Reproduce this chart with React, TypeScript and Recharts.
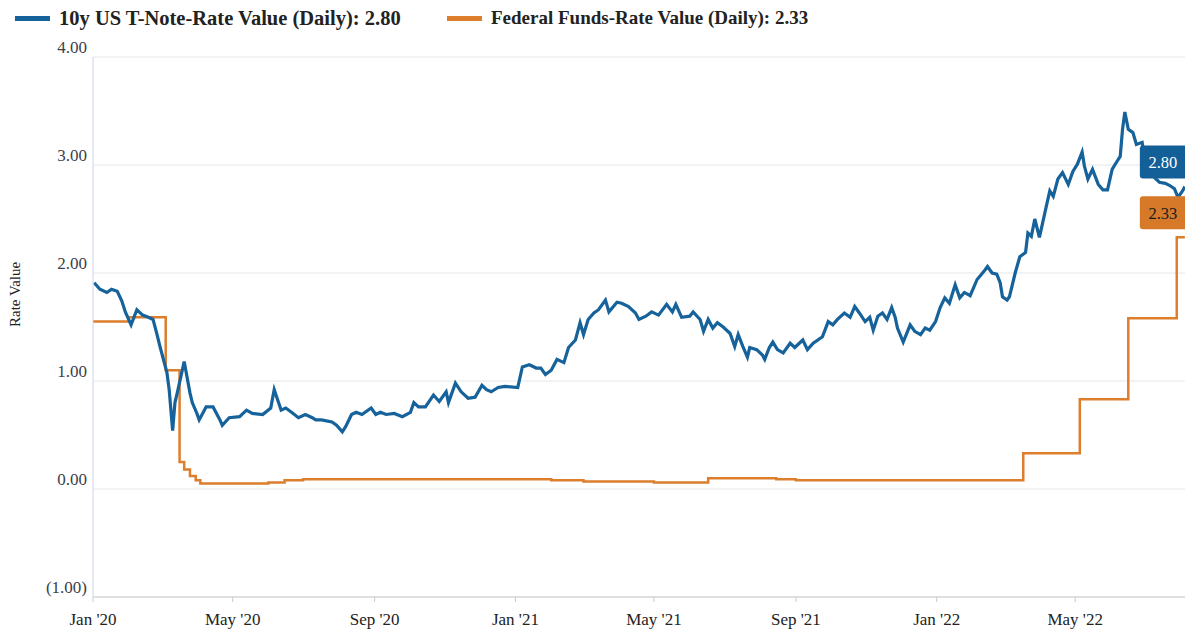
import { LineChart, Line, XAxis, YAxis, CartesianGrid, ReferenceDot } from "recharts";

// 10y US T-Note rate (roughly twice a week)
const tnote2020: [string, number][] = [
  ["2020-01-02", 1.91], ["2020-01-07", 1.85], ["2020-01-13", 1.82], ["2020-01-17", 1.85],
  ["2020-01-22", 1.83], ["2020-01-26", 1.74], ["2020-01-29", 1.64], ["2020-02-03", 1.52],
  ["2020-02-08", 1.66], ["2020-02-13", 1.61], ["2020-02-18", 1.59], ["2020-02-22", 1.57],
  ["2020-02-25", 1.45], ["2020-02-28", 1.32], ["2020-03-02", 1.2], ["2020-03-05", 1.08],
  ["2020-03-07", 0.92], ["2020-03-10", 0.54], ["2020-03-12", 0.8], ["2020-03-14", 0.89],
  ["2020-03-20", 1.18], ["2020-03-25", 0.89], ["2020-03-27", 0.8], ["2020-03-31", 0.7],
  ["2020-04-02", 0.64], ["2020-04-08", 0.76], ["2020-04-14", 0.76], ["2020-04-20", 0.64],
  ["2020-04-22", 0.59], ["2020-04-28", 0.66], ["2020-05-07", 0.67], ["2020-05-13", 0.73],
  ["2020-05-18", 0.7], ["2020-05-27", 0.69], ["2020-06-03", 0.75], ["2020-06-06", 0.92],
  ["2020-06-12", 0.73], ["2020-06-16", 0.75], ["2020-06-21", 0.71], ["2020-06-27", 0.66],
  ["2020-07-03", 0.69], ["2020-07-09", 0.66], ["2020-07-12", 0.64], ["2020-07-17", 0.64],
  ["2020-07-26", 0.62], ["2020-07-30", 0.59], ["2020-08-04", 0.53], ["2020-08-07", 0.58],
  ["2020-08-12", 0.69], ["2020-08-16", 0.71], ["2020-08-21", 0.69], ["2020-08-29", 0.75],
  ["2020-09-02", 0.69], ["2020-09-06", 0.71], ["2020-09-11", 0.69], ["2020-09-18", 0.7],
  ["2020-09-25", 0.67], ["2020-10-02", 0.71], ["2020-10-05", 0.8], ["2020-10-09", 0.76],
  ["2020-10-15", 0.76], ["2020-10-22", 0.87], ["2020-10-27", 0.81], ["2020-11-02", 0.9],
  ["2020-11-04", 0.8], ["2020-11-10", 0.98], ["2020-11-15", 0.9], ["2020-11-21", 0.84],
  ["2020-11-27", 0.85], ["2020-12-03", 0.96], ["2020-12-07", 0.92], ["2020-12-11", 0.9],
  ["2020-12-17", 0.94], ["2020-12-23", 0.95],
];

const tnote2021: [string, number][] = [
  ["2021-01-03", 0.94], ["2021-01-07", 1.13], ["2021-01-13", 1.15], ["2021-01-19", 1.12],
  ["2021-01-23", 1.12], ["2021-01-27", 1.06], ["2021-02-01", 1.1], ["2021-02-06", 1.2],
  ["2021-02-12", 1.17], ["2021-02-16", 1.31], ["2021-02-22", 1.38], ["2021-02-26", 1.54],
  ["2021-03-01", 1.43], ["2021-03-05", 1.57], ["2021-03-10", 1.63], ["2021-03-14", 1.66],
  ["2021-03-20", 1.75], ["2021-03-23", 1.64], ["2021-03-30", 1.73], ["2021-04-03", 1.72],
  ["2021-04-09", 1.69], ["2021-04-15", 1.63], ["2021-04-18", 1.57], ["2021-04-24", 1.6],
  ["2021-04-29", 1.64], ["2021-05-05", 1.61], ["2021-05-12", 1.71], ["2021-05-17", 1.64],
  ["2021-05-20", 1.71], ["2021-05-25", 1.59], ["2021-06-01", 1.6], ["2021-06-04", 1.64],
  ["2021-06-10", 1.57], ["2021-06-13", 1.46], ["2021-06-17", 1.57], ["2021-06-21", 1.49],
  ["2021-06-25", 1.54], ["2021-06-30", 1.5], ["2021-07-06", 1.44], ["2021-07-10", 1.32],
  ["2021-07-13", 1.43], ["2021-07-17", 1.32], ["2021-07-21", 1.22], ["2021-07-23", 1.31],
  ["2021-07-29", 1.29], ["2021-08-03", 1.24], ["2021-08-05", 1.2], ["2021-08-09", 1.31],
  ["2021-08-12", 1.36], ["2021-08-16", 1.29], ["2021-08-21", 1.26], ["2021-08-27", 1.35],
  ["2021-08-31", 1.31], ["2021-09-07", 1.38], ["2021-09-11", 1.29], ["2021-09-16", 1.35],
  ["2021-09-20", 1.38], ["2021-09-24", 1.41], ["2021-09-29", 1.55], ["2021-10-03", 1.52],
  ["2021-10-07", 1.57], ["2021-10-13", 1.63], ["2021-10-18", 1.59], ["2021-10-22", 1.69],
  ["2021-10-26", 1.63], ["2021-10-31", 1.55], ["2021-11-04", 1.59], ["2021-11-07", 1.47],
  ["2021-11-11", 1.6], ["2021-11-15", 1.63], ["2021-11-19", 1.57], ["2021-11-23", 1.68],
  ["2021-11-26", 1.59], ["2021-11-28", 1.49], ["2021-12-03", 1.36], ["2021-12-09", 1.52],
  ["2021-12-13", 1.46], ["2021-12-18", 1.43], ["2021-12-22", 1.49], ["2021-12-26", 1.47],
  ["2021-12-31", 1.55],
];

const tnote2022: [string, number][] = [
  ["2022-01-04", 1.68], ["2022-01-08", 1.77], ["2022-01-12", 1.72], ["2022-01-17", 1.89],
  ["2022-01-21", 1.77], ["2022-01-25", 1.82], ["2022-01-30", 1.79], ["2022-02-05", 1.94],
  ["2022-02-09", 1.99], ["2022-02-12", 2.03], ["2022-02-14", 2.06], ["2022-02-18", 2.0],
  ["2022-02-22", 1.99], ["2022-02-25", 1.91], ["2022-02-27", 1.78], ["2022-03-03", 1.75],
  ["2022-03-05", 1.78], ["2022-03-10", 2.0], ["2022-03-14", 2.15], ["2022-03-19", 2.19],
  ["2022-03-21", 2.37], ["2022-03-24", 2.34], ["2022-03-27", 2.5], ["2022-03-31", 2.33],
  ["2022-04-06", 2.62], ["2022-04-09", 2.76], ["2022-04-12", 2.71], ["2022-04-16", 2.87],
  ["2022-04-20", 2.93], ["2022-04-25", 2.82], ["2022-04-29", 2.94], ["2022-05-03", 3.01],
  ["2022-05-07", 3.12], ["2022-05-09", 2.99], ["2022-05-12", 2.87], ["2022-05-16", 2.96],
  ["2022-05-21", 2.82], ["2022-05-25", 2.77], ["2022-05-29", 2.77], ["2022-06-02", 2.96],
  ["2022-06-06", 3.03], ["2022-06-09", 3.08], ["2022-06-11", 3.33], ["2022-06-13", 3.49],
  ["2022-06-16", 3.33], ["2022-06-20", 3.3], ["2022-06-23", 3.19], ["2022-06-28", 3.21],
  ["2022-06-30", 3.08], ["2022-07-05", 2.95], ["2022-07-09", 2.88], ["2022-07-13", 2.84],
  ["2022-07-18", 2.83], ["2022-07-22", 2.81], ["2022-07-26", 2.78], ["2022-07-29", 2.7],
  ["2022-08-02", 2.76], ["2022-08-04", 2.8],
];

// Effective fed funds rate, change points (drawn as steps)
const fedFunds: [string, number][] = [
  ["2020-01-01", 1.55], ["2020-02-01", 1.59], ["2020-03-04", 1.1], ["2020-03-16", 0.25],
  ["2020-03-20", 0.18], ["2020-03-25", 0.12], ["2020-03-30", 0.08], ["2020-04-03", 0.05],
  ["2020-06-01", 0.06], ["2020-06-15", 0.08], ["2020-07-01", 0.09], ["2021-02-01", 0.08],
  ["2021-03-01", 0.07], ["2021-05-01", 0.06], ["2021-06-17", 0.1], ["2021-08-15", 0.09],
  ["2021-09-01", 0.08], ["2022-03-17", 0.33], ["2022-05-05", 0.83], ["2022-06-16", 1.58],
  ["2022-07-28", 2.33], ["2022-08-04", 2.33],
];

const xTickDates = [
  "2020-01-01", "2020-05-01", "2020-09-01", "2021-01-01",
  "2021-05-01", "2021-09-01", "2022-01-01", "2022-05-01",
];
const xTickLabels = ["Jan '20", "May '20", "Sep '20", "Jan '21", "May '21", "Sep '21", "Jan '22", "May '22"];
const yTicks = [-1, 0, 1, 2, 3, 4];
const yTickLabels = ["(1.00)", "0.00", "1.00", "2.00", "3.00", "4.00"];

const BLUE = "#16629b";
const ORANGE = "#dc7e2c";
const FONT = '"Liberation Serif", "Times New Roman", serif';

const ts = (d: string) => Date.parse(d + "T00:00:00Z");

const tnoteData = [...tnote2020, ...tnote2021, ...tnote2022].map(([d, v]) => ({ t: ts(d), v }));
const fedData = fedFunds.map(([d, v]) => ({ t: ts(d), v }));
const xTicks = xTickDates.map(ts);
const lastT = tnoteData[tnoteData.length - 1];
const lastF = fedData[fedData.length - 1];

function YTick({ x, y, payload }: any) {
  const i = yTicks.indexOf(payload.value);
  return (
    <text x={x} y={y - 10} textAnchor="end" dominantBaseline="central" fill="#3a3f4a" fontSize={17} fontFamily={FONT}>
      {yTickLabels[i]}
    </text>
  );
}

function XTick({ x, y, payload }: any) {
  const i = xTicks.indexOf(payload.value);
  return (
    <text x={x} y={y} textAnchor="middle" dominantBaseline="central" fill="#222" fontSize={17} fontFamily={FONT}>
      {xTickLabels[i]}
    </text>
  );
}

function endTag(fill: string, textFill: string, label: string) {
  return (props: any) => {
    const { cx, cy } = props;
    return (
      <g>
        <rect x={cx - 45} y={cy - 41} width={58} height={33} rx={3} fill={fill} />
        <text x={cx - 22} y={cy - 24} textAnchor="middle" dominantBaseline="central" fill={textFill} fontSize={16.5} fontFamily={FONT}>
          {label}
        </text>
      </g>
    );
  };
}

function LegendItem({ left, color, text, size }: { left: number; color: string; text: string; size: number }) {
  return (
    <div style={{ position: "absolute", left, top: 7, display: "flex", alignItems: "center", height: 22 }}>
      <span style={{ width: 35, height: 5, background: color, marginRight: 9 }} />
      <span style={{ fontFamily: FONT, fontWeight: "bold", fontSize: size, color: "#222", whiteSpace: "nowrap" }}>{text}</span>
    </div>
  );
}

export default function App() {
  return (
    <div style={{ position: "fixed", left: 0, top: 0, width: 1185, height: 632, overflow: "hidden", background: "#fff" }}>
      <LineChart width={1186} height={632} margin={{ top: 57, right: 0, left: 0, bottom: 0 }}>
        <CartesianGrid vertical={false} stroke="#e6e6e6" />
        <XAxis
          dataKey="t"
          type="number"
          domain={[ts("2020-01-01"), ts("2022-08-05")]}
          ticks={xTicks}
          tick={<XTick />}
          height={35}
          tickSize={5}
          tickMargin={17}
          stroke="#cccccc"
          allowDataOverflow
        />
        <YAxis
          dataKey="v"
          type="number"
          domain={[-1, 4]}
          ticks={yTicks}
          tick={<YTick />}
          width={93}
          tickLine={false}
          tickSize={0}
          tickMargin={6}
          stroke="#ccd6eb"
          label={{ value: "Rate Value", angle: -90, position: "insideLeft", offset: 15, fill: "#222", fontSize: 15, fontFamily: FONT }}
        />
        <Line data={fedData} dataKey="v" type="stepAfter" stroke={ORANGE} strokeWidth={2.5} dot={false} isAnimationActive={false} />
        <Line data={tnoteData} dataKey="v" type="linear" stroke={BLUE} strokeWidth={3.2} dot={false} isAnimationActive={false} />
        <ReferenceDot x={lastT.t} y={lastT.v} r={0} shape={endTag("#135f98", "#fff", "2.80")} />
        <ReferenceDot x={lastF.t} y={lastF.v} r={0} shape={endTag("#d67a2a", "#1a1a1a", "2.33")} />
      </LineChart>
      <LegendItem left={15} color={BLUE} text="10y US T-Note-Rate Value (Daily): 2.80" size={20.5} />
      <LegendItem left={447} color={ORANGE} text="Federal Funds-Rate Value (Daily): 2.33" size={19} />
    </div>
  );
}
